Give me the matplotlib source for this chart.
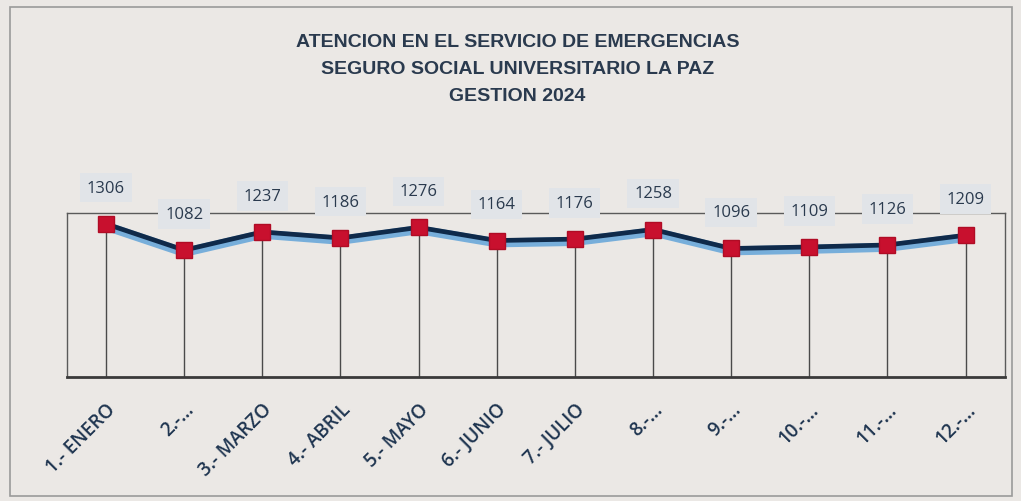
import matplotlib.pyplot as plt
from matplotlib.patches import Rectangle
import numpy as np

#colors
bgColor = '#ebe8e5'
lineColor = '#0f2a4a'
glowColor = '#5aa0d8'
markerColor = '#c8102e'
textColor = '#2a3a4e'
boxColor = '#e1e4e8'

# data
meses = ['1.- ENERO', '2.-…', '3.- MARZO', '4.- ABRIL', '5.- MAYO', '6.- JUNIO',
         '7.- JULIO', '8.-…', '9.-…', '10.-…', '11.-…', '12.-…']
atenciones = [1306, 1082, 1237, 1186, 1276, 1164, 1176, 1258, 1096, 1109, 1126, 1209]

x = np.arange(len(meses))

fig = plt.figure(figsize=(10.21, 5.02), dpi=100, facecolor=bgColor)
ax = fig.add_axes([0.0656, 0.247, 0.9184, 0.327])
ax.set_facecolor(bgColor)

# outer frame of the chart
fig.patches.append(Rectangle((0.01, 0.01), 0.981, 0.975, transform=fig.transFigure,
                             fill=False, edgecolor='#9a9a9a', linewidth=1.2))

# drop lines
for xi, yi in zip(x, atenciones):
    ax.plot([xi, xi], [0, yi], color='#4a4a4a', linewidth=1, zorder=2)

# line with blue glow underneath
ax.plot(x, np.array(atenciones) - 20, color=glowColor, linewidth=6.5, alpha=0.8,
        solid_capstyle='round', zorder=3)
ax.plot(x, atenciones, color=lineColor, linewidth=3.4, zorder=4)
ax.plot(x, atenciones, linestyle='none', marker='s', markersize=11,
        markerfacecolor=markerColor, markeredgecolor='#b00c25', zorder=5)

# value labels
for xi, yi in zip(x, atenciones):
    ax.annotate(str(yi), (xi, yi), xytext=(0, 26), textcoords='offset points',
                ha='center', va='center', fontsize=12, color=textColor,
                family='Open Sans', zorder=6,
                bbox=dict(boxstyle='square,pad=0.4', facecolor=boxColor, edgecolor='none'),
                annotation_clip=False)

ax.set_xlim(-0.5, 11.5)
ax.set_ylim(0, 1400)
ax.set_yticks([])
ax.set_xticks(x)
ax.set_xticklabels(meses, rotation=45, ha='right', va='top', rotation_mode='anchor',
                   fontsize=13.5, color='#1f3550', family='Open Sans', fontweight='semibold')
ax.tick_params(axis='x', length=0, pad=16)

for s in ['left', 'right', 'top']:
    ax.spines[s].set_color('#5a5a5a')
    ax.spines[s].set_linewidth(1)
ax.spines['bottom'].set_color('#3a3a3a')
ax.spines['bottom'].set_linewidth(2)

# title
titulo = ['ATENCION EN EL SERVICIO DE EMERGENCIAS',
          'SEGURO SOCIAL UNIVERSITARIO LA PAZ',
          'GESTION 2024']
for i, t in enumerate(titulo):
    fig.text(0.507, 0.915 - i * 0.054, t, ha='center', va='center',
             fontsize=14, color=textColor, family='Liberation Sans', fontweight='bold')

fig.savefig('out.png', dpi=100, facecolor=bgColor)
